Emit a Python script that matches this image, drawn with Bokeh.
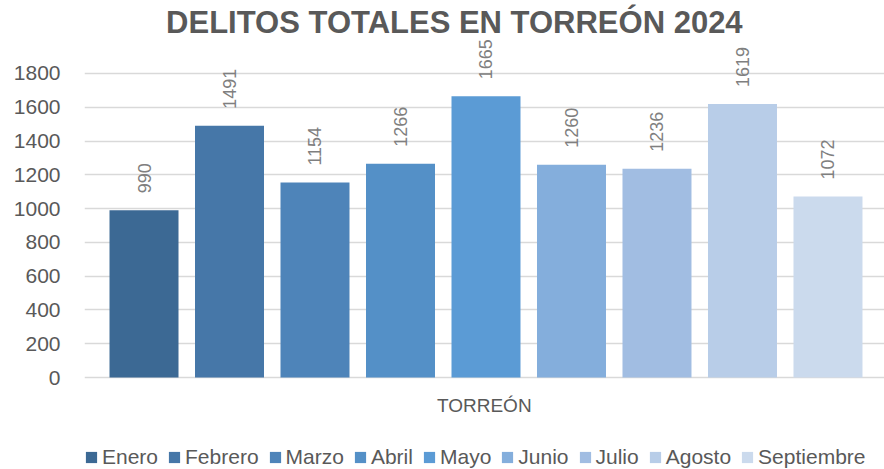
import math
from bokeh.plotting import figure
from bokeh.models import ColumnDataSource, LabelSet, Label, Legend, LegendItem, Range1d, FixedTicker
from bokeh.core.properties import value
from bokeh.embed import file_html
from bokeh.resources import INLINE

meses = ["Enero", "Febrero", "Marzo", "Abril", "Mayo", "Junio", "Julio", "Agosto", "Septiembre"]
delitos = [990, 1491, 1154, 1266, 1665, 1260, 1236, 1619, 1072]
colores = ["#3C6994", "#4677A8", "#4E84B9", "#5490C7", "#5B9BD5", "#84AEDC", "#A1BDE2", "#B8CDE8", "#CBDAED"]
y_ticks = [0, 200, 400, 600, 800, 1000, 1200, 1400, 1600, 1800]
titulo = "DELITOS TOTALES EN TORREÓN 2024"
categoria = "TORREÓN"

p = figure(width=884, height=469, output_backend="svg", toolbar_location=None,
           x_range=Range1d(-0.696, 8.661), y_range=Range1d(-544.7, 2232.2),
           min_border_left=84, min_border_right=0, min_border_top=0, min_border_bottom=0)
p.outline_line_color = None
p.background_fill_color = "white"

idx = list(range(len(meses)))
items = []
for i, (m, v, c) in enumerate(zip(meses, delitos, colores)):
    src = ColumnDataSource(dict(x=[idx[i]], top=[v], lab=[str(v)]))
    r = p.vbar(x="x", top="top", width=0.807, source=src, fill_color=c, line_color=None)
    items.append(LegendItem(label=m, renderers=[r]))
    p.add_layout(LabelSet(x="x", y="top", text="lab", source=src, angle=math.pi / 2,
                          text_align="left", text_baseline="middle", y_offset=17,
                          text_font=value("Liberation Sans"), text_font_size="18px",
                          text_color="#7F7F7F"))

# axes
p.yaxis.ticker = FixedTicker(ticks=y_ticks)
p.yaxis.axis_line_color = None
p.yaxis.major_tick_line_color = None
p.yaxis.minor_tick_line_color = None
p.yaxis.major_label_text_font = "Liberation Sans"
p.yaxis.major_label_text_font_size = "21px"
p.yaxis.major_label_text_color = "#595959"
p.yaxis.major_label_standoff = 18

p.xaxis.visible = False

p.xgrid.grid_line_color = None
p.ygrid.grid_line_color = "#D9D9D9"
p.ygrid.grid_line_width = 1.5

legend = Legend(items=items, orientation="horizontal", location=(0, 0),
                label_text_font="Liberation Sans", label_text_font_size="21px",
                label_text_color="#595959", glyph_width=14, glyph_height=14,
                label_standoff=4, spacing=9, padding=0, margin=0,
                border_line_color=None, background_fill_alpha=0)
p.add_layout(legend, "center")

p.add_layout(Label(x=3.98, y=-165.8, text=categoria, text_align="center", text_baseline="middle",
                   text_font="Liberation Sans", text_font_size="19px", text_color="#595959"))

p.add_layout(Label(x=3.63, y=2102, text=titulo, text_align="center", text_baseline="middle",
                   text_font="Liberation Sans", text_font_style="bold",
                   text_font_size="31px", text_color="#595959"))

open("out.html", "w").write(file_html(p, INLINE))
